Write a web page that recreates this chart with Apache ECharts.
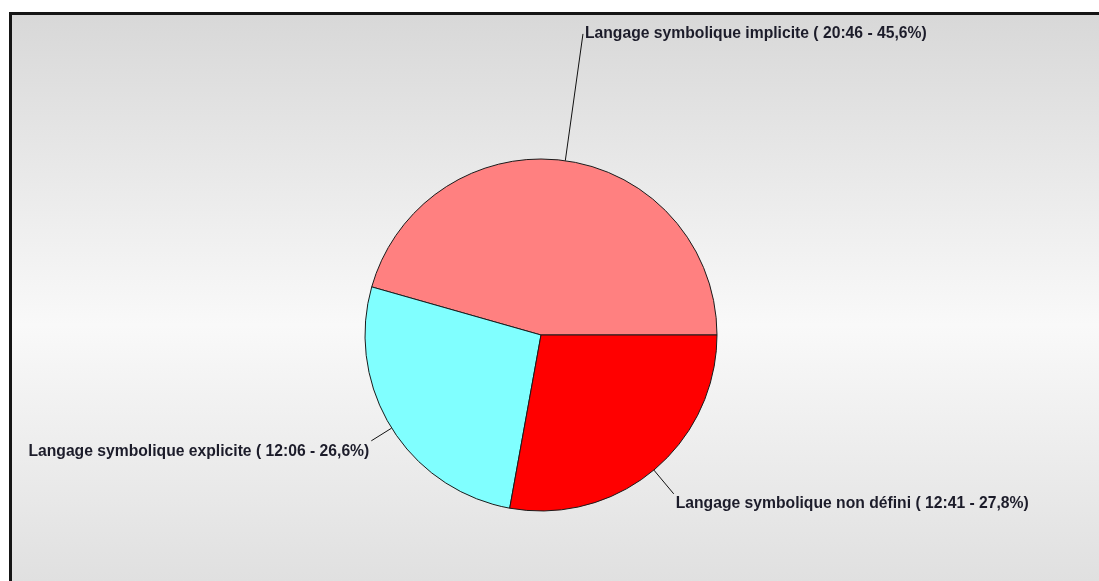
<!DOCTYPE html>
<html>
<head>
<meta charset="utf-8">
<script src="https://cdn.jsdelivr.net/npm/echarts@6/dist/echarts.min.js"></script>
<style>
  html, body { margin: 0; padding: 0; background: #ffffff; width: 1099px; height: 581px; overflow: hidden; }
  #frame {
    position: absolute; left: 9px; top: 12px; width: 1200px; height: 700px;
    border-left: 3px solid #151515; border-top: 3px solid #151515;
    background: linear-gradient(to bottom, #d8d8d8 0px, #f9f9f9 310px, #e0e0e0 566px);
  }
  #chart { position: absolute; left: 0; top: 0; width: 1099px; height: 581px; }
</style>
</head>
<body>
<div id="frame"></div>
<div id="chart"></div>
<script>
// Data
const categories = [
  'Langage symbolique implicite',
  'Langage symbolique explicite',
  'Langage symbolique non défini'
];
const durationsMinutes = [1246, 726, 761]; // 20:46, 12:06, 12:41
const sliceColors = ['#ff8080', '#80ffff', '#ff0000'];

const total = durationsMinutes.reduce((a, b) => a + b, 0);
function fmtTime(v) {
  const h = Math.floor(v / 60), m = v % 60;
  return h + ':' + String(m).padStart(2, '0');
}

// label line styling per slice (style only)
const labelStyle = [
  { len: 128, dy: 0 },
  { len: 24, dy: 11 },
  { len: 31, dy: 10 }
];

const chart = echarts.init(document.getElementById('chart'), null, { renderer: 'canvas' });
chart.setOption({
  backgroundColor: 'transparent',
  animation: false,
  series: [{
    type: 'pie',
    center: [541, 335],
    radius: 176,
    startAngle: 0,
    clockwise: false,
    avoidLabelOverlap: false,
    emphasis: { disabled: true },
    itemStyle: { borderColor: '#1a1a1a', borderWidth: 1 },
    label: {
      show: true,
      position: 'outside',
      color: '#1c1c2a',
      fontFamily: '"Liberation Sans", Arial, sans-serif',
      fontWeight: 'bold',
      fontSize: 15.7,
      distanceToLabelLine: 2,
      formatter: function (p) {
        const pct = (p.value / total * 100).toFixed(1).replace('.', ',');
        return p.name + ' ( ' + fmtTime(p.value) + ' - ' + pct + '%)';
      }
    },
    labelLayout: function (params) {
      return { dy: labelStyle[params.dataIndex].dy };
    },
    labelLine: {
      show: true,
      length2: 0,
      lineStyle: { color: '#111', width: 1 }
    },
    data: categories.map((c, i) => ({
      name: c,
      value: durationsMinutes[i],
      itemStyle: { color: sliceColors[i] },
      labelLine: { length: labelStyle[i].len, length2: 0 }
    }))
  }]
});
</script>
</body>
</html>
